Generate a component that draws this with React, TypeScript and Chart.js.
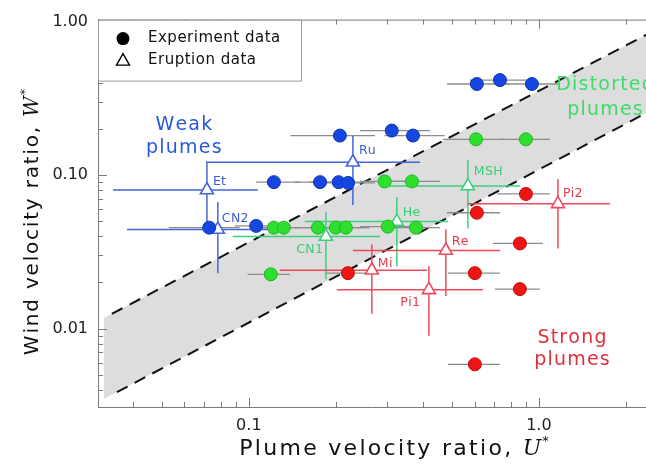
import React, { useEffect, useRef } from "react";
import { Chart, registerables } from "chart.js";

Chart.register(...registerables);

// ---------- axes ----------
const X_MIN = 0.0302;
const X_MAX = 2.34;
const Y_MIN = 0.00309;
const Y_MAX = 1.03;
const X_TICKS = [0.1, 1];
const X_TICK_LABELS = ["0.1", "1.0"];
const Y_TICKS = [0.01, 0.1, 1];
const Y_TICK_LABELS = ["0.01", "0.10", "1.00"];

// ---------- experiment data (filled circles, grey U error bars) ----------
const expBlueU = [0.611, 0.734, 0.946, 0.206, 0.311, 0.368, 0.122, 0.176, 0.204, 0.22, 0.073, 0.106];
const expBlueW = [0.392, 0.416, 0.392, 0.181, 0.195, 0.181, 0.09, 0.09, 0.09, 0.089, 0.0455, 0.0467];
const expBlueLo = [0.482, 0.578, 0.764, 0.139, 0.242, 0.294, 0.106, 0.144, 0.162, 0.176, 0.053, 0.0895];
const expBlueHi = [0.794, 0.946, 1.18, 0.272, 0.421, 0.474, 0.15, 0.214, 0.251, 0.272, 0.093, 0.139];

const expGreenU = [0.607, 0.902, 0.294, 0.365, 0.122, 0.132, 0.173, 0.1995, 0.216, 0.3015, 0.377, 0.119];
const expGreenW = [0.171, 0.171, 0.091, 0.091, 0.0455, 0.0455, 0.0455, 0.0455, 0.0455, 0.0462, 0.0455, 0.0226];
const expGreenLo = [0.467, 0.734, 0.242, 0.294, 0.101, 0.109, 0.144, 0.162, 0.176, 0.242, 0.306, 0.099];
const expGreenHi = [0.764, 1.091, 0.359, 0.456, 0.15, 0.162, 0.214, 0.251, 0.261, 0.373, 0.456, 0.1385];

const expRedU = [0.2195, 0.902, 0.611, 0.86, 0.6015, 0.86, 0.6015];
const expRedW = [0.023, 0.0754, 0.0569, 0.0359, 0.023, 0.0181, 0.00586];
const expRedLo = [0.183, 0.716, 0.482, 0.694, 0.4855, 0.705, 0.4855];
const expRedHi = [0.261, 1.091, 0.734, 1.032, 0.734, 1.008, 0.734];

// ---------- eruption data (open triangles, U and W error bars) ----------
const eruptNames = ["Et", "Ru", "CN2", "CN1", "He", "MSH", "Mi", "Pi1", "Re", "Pi2"];
const eruptGroup = ["blue", "blue", "blue", "green", "green", "green", "red", "red", "red", "red"];
const eruptU = [0.0717, 0.2284, 0.0782, 0.1844, 0.3238, 0.569, 0.2655, 0.4176, 0.4777, 1.163];
const eruptW = [0.08, 0.1213, 0.0442, 0.0398, 0.0498, 0.0849, 0.024, 0.0179, 0.0323, 0.065];
const eruptULo = [0.034, 0.0711, 0.038, 0.0881, 0.156, 0.299, 0.1279, 0.2011, 0.2284, 0.569];
const eruptUHi = [0.1074, 0.389, 0.1385, 0.283, 0.4855, 0.86, 0.4111, 0.641, 0.734, 1.757];
const eruptWLo = [0.0462, 0.064, 0.023, 0.021, 0.0255, 0.0449, 0.0125, 0.00901, 0.0163, 0.0333];
const eruptWHi = [0.1213, 0.181, 0.0669, 0.0577, 0.0721, 0.125, 0.0353, 0.0255, 0.0442, 0.0942];

// ---------- regime band ----------
const bandU = [0.0316, 2.34];
const bandUpperW = [0.01172, 0.818];
const bandLowerW = [0.00348, 0.2535];
const upperLineU = [0.0337, 2.34];
const upperLineW = [0.0125, 0.818];
const lowerLineU = [0.0351, 2.34];
const lowerLineW = [0.00386, 0.2535];

// ---------- region annotations ----------
const regionText = ["Weak", "plumes", "Distorted", "plumes", "Strong", "plumes"];
const regionU = [0.0597, 0.0597, 1.69, 1.69, 1.3, 1.3];
const regionW = [0.213, 0.149, 0.386, 0.267, 0.00875, 0.00622];
const regionGroup = ["blue", "blue", "green", "green", "red", "red"];

// ---------- styles ----------
const DOT_FILL: Record<string, string> = { blue: "#1646e0", green: "#2ee02e", red: "#ee1515" };
const DOT_EDGE: Record<string, string> = { blue: "#1034b4", green: "#1fb41f", red: "#c40c0c" };
const ERUPT_COLOR: Record<string, string> = { blue: "#4566d8", green: "#3ccf7c", red: "#ee4a5c" };
const REGION_COLOR: Record<string, string> = { blue: "#2a5ad8", green: "#3ddc6a", red: "#e0303a" };
const LABEL_COLOR: Record<string, string> = { blue: "#3a5fd0", green: "#36cf78", red: "#e23a4c" };
// label offsets (px) relative to the triangle and text alignment
const LABEL_OFFSET: Record<string, [number, number, CanvasTextAlign]> = {
  Et: [6, -8, "left"],
  Ru: [6, -11, "left"],
  CN2: [4, -11, "left"],
  CN1: [-3, 13, "right"],
  He: [6, -9, "left"],
  MSH: [6, -14, "left"],
  Mi: [6, -7, "left"],
  Pi1: [-9, 13, "right"],
  Re: [6, -9, "left"],
  Pi2: [5, -10, "left"],
};

const FONT = "'DejaVu Sans', sans-serif";

function pts(us: number[], ws: number[]) {
  return us.map((u, i) => ({ x: u, y: ws[i] }));
}

function spacedWidth(ctx: CanvasRenderingContext2D, t: string, sp: number) {
  let w = 0;
  for (const ch of t) w += ctx.measureText(ch).width + sp;
  return w;
}
function drawSpaced(ctx: CanvasRenderingContext2D, t: string, x: number, y: number, sp: number) {
  for (const ch of t) {
    ctx.fillText(ch, x, y);
    x += ctx.measureText(ch).width + sp;
  }
  return x;
}
function drawSpacedAligned(ctx: CanvasRenderingContext2D, t: string, x: number, y: number, sp: number, align: string) {
  const w = spacedWidth(ctx, t, sp) - sp;
  const start = align === "center" ? x - w / 2 : align === "right" ? x - w : x;
  const prev = ctx.textAlign;
  ctx.textAlign = "left";
  drawSpaced(ctx, t, start, y, sp);
  ctx.textAlign = prev;
}

const overlayPlugin = {
  id: "overlay",
  afterDatasetDraw(chart: any, args: any) {
    const ds = chart.data.datasets[args.index];
    if (ds.label !== "Lower boundary") return;
    const ctx = chart.ctx;
    const xs = chart.scales.x;
    const ys = chart.scales.y;
    const ca = chart.chartArea;
    ctx.save();
    ctx.beginPath();
    ctx.rect(ca.left, ca.top, ca.right - ca.left, ca.bottom - ca.top);
    ctx.clip();
    ctx.strokeStyle = "#8c8c8c";
    ctx.lineWidth = 1.3;
    const groups: [number[], number[], number[], number[]][] = [
      [expBlueU, expBlueW, expBlueLo, expBlueHi],
      [expGreenU, expGreenW, expGreenLo, expGreenHi],
      [expRedU, expRedW, expRedLo, expRedHi],
    ];
    groups.forEach(([u, w, lo, hi]) => {
      u.forEach((_, i) => {
        const y = ys.getPixelForValue(w[i]);
        ctx.beginPath();
        ctx.moveTo(xs.getPixelForValue(lo[i]), y);
        ctx.lineTo(xs.getPixelForValue(hi[i]), y);
        ctx.stroke();
      });
    });
    ctx.lineWidth = 1.5;
    eruptU.forEach((u, i) => {
      ctx.strokeStyle = ERUPT_COLOR[eruptGroup[i]];
      const x = xs.getPixelForValue(u);
      const y = ys.getPixelForValue(eruptW[i]);
      ctx.beginPath();
      ctx.moveTo(xs.getPixelForValue(eruptULo[i]), y);
      ctx.lineTo(xs.getPixelForValue(eruptUHi[i]), y);
      ctx.moveTo(x, ys.getPixelForValue(eruptWLo[i]));
      ctx.lineTo(x, ys.getPixelForValue(eruptWHi[i]));
      ctx.stroke();
    });
    ctx.restore();
  },
  afterDraw(chart: any) {
    const ctx = chart.ctx as CanvasRenderingContext2D;
    const xs = chart.scales.x;
    const ys = chart.scales.y;
    const ca = chart.chartArea;
    ctx.save();
    ctx.strokeStyle = "#7a7a7a";
    ctx.lineWidth = 1;
    ctx.beginPath();
    ctx.moveTo(ca.left, ca.top + 0.5);
    ctx.lineTo(ca.right, ca.top + 0.5);
    ctx.stroke();
    const decades = [0.001, 0.01, 0.1, 1];
    ctx.beginPath();
    decades.forEach((d) => {
      for (let k = 1; k <= 9; k++) {
        const v = d * k;
        const len = k === 1 ? 9 : 5;
        if (v >= Y_MIN && v <= Y_MAX) {
          const y = Math.round(ys.getPixelForValue(v)) + 0.5;
          ctx.moveTo(ca.left, y);
          ctx.lineTo(ca.left + len, y);
        }
        if (v >= X_MIN && v <= X_MAX) {
          const x = Math.round(xs.getPixelForValue(v)) + 0.5;
          ctx.moveTo(x, ca.bottom);
          ctx.lineTo(x, ca.bottom - len);
          ctx.moveTo(x, ca.top);
          ctx.lineTo(x, ca.top + len);
        }
      }
    });
    ctx.stroke();

    // eruption labels
    ctx.font = `12.5px ${FONT}`;
    ctx.textBaseline = "middle";
    eruptNames.forEach((n, i) => {
      const [dx, dy, al] = LABEL_OFFSET[n];
      ctx.fillStyle = LABEL_COLOR[eruptGroup[i]];
      drawSpacedAligned(ctx, n, xs.getPixelForValue(eruptU[i]) + dx, ys.getPixelForValue(eruptW[i]) + dy, 0.3, al);
    });

    // region annotations
    ctx.font = `19px ${FONT}`;
    regionText.forEach((t, i) => {
      ctx.fillStyle = REGION_COLOR[regionGroup[i]];
      drawSpacedAligned(ctx, t, xs.getPixelForValue(regionU[i]), ys.getPixelForValue(regionW[i]), 1.2, "center");
    });

    // legend box
    ctx.fillStyle = "#ffffff";
    ctx.fillRect(ca.left + 1, ca.top + 1, 202, 60);
    ctx.strokeStyle = "#9a9a9a";
    ctx.lineWidth = 1;
    ctx.strokeRect(ca.left + 0.5, ca.top + 0.5, 203, 61);
    ctx.fillStyle = "#000";
    ctx.beginPath();
    ctx.arc(ca.left + 25, ca.top + 19, 6.5, 0, Math.PI * 2);
    ctx.fill();
    ctx.strokeStyle = "#000";
    ctx.lineWidth = 1.4;
    const tx = ca.left + 25;
    const ty = ca.top + 41;
    ctx.beginPath();
    ctx.moveTo(tx, ty - 7);
    ctx.lineTo(tx + 6.5, ty + 4.5);
    ctx.lineTo(tx - 6.5, ty + 4.5);
    ctx.closePath();
    ctx.stroke();
    ctx.font = `15px ${FONT}`;
    ctx.fillStyle = "#111";
    drawSpacedAligned(ctx, "Experiment data", ca.left + 50, ca.top + 19, 0.5, "left");
    drawSpacedAligned(ctx, "Eruption data", ca.left + 50, ca.top + 41, 0.5, "left");

    // axis titles
    const drawTitle = (parts: [string, string, number, number][]) => {
      let total = 0;
      parts.forEach(([t, f, , sp]) => {
        ctx.font = f;
        total += spacedWidth(ctx, t, sp);
      });
      let x = -total / 2;
      parts.forEach(([t, f, dy, sp]) => {
        ctx.font = f;
        x = drawSpaced(ctx, t, x, dy, sp);
      });
    };
    ctx.fillStyle = "#111";
    ctx.textAlign = "left";
    ctx.textBaseline = "alphabetic";
    ctx.save();
    ctx.translate(394, 455);
    drawTitle([
      ["Plume velocity ratio, ", `22px ${FONT}`, 0, 2.3],
      ["U", `italic 22px 'DejaVu Serif', serif`, 0, 1],
      ["*", `13px ${FONT}`, -10, 0],
    ]);
    ctx.restore();
    ctx.save();
    ctx.translate(38, 222);
    ctx.rotate(-Math.PI / 2);
    drawTitle([
      ["Wind velocity ratio, ", `20px ${FONT}`, 0, 1.8],
      ["W", `italic 20px 'DejaVu Serif', serif`, 0, 1],
      ["*", `13px ${FONT}`, -9, 0],
    ]);
    ctx.restore();
    ctx.restore();
  },
};

export default function App() {
  const ref = useRef<HTMLCanvasElement | null>(null);
  useEffect(() => {
    if (!ref.current) return;
    const expDs = (u: number[], w: number[], g: string, label: string) => ({
      type: "scatter" as const,
      label,
      data: pts(u, w),
      pointRadius: 6.5,
      pointStyle: "circle",
      backgroundColor: DOT_FILL[g],
      borderColor: DOT_EDGE[g],
      borderWidth: 1,
      order: 1,
    });
    const eruptDs = (g: string) => {
      const idx = eruptU.map((_, i) => i).filter((i) => eruptGroup[i] === g);
      return {
        type: "scatter" as const,
        label: "Eruption " + g,
        data: idx.map((i) => ({ x: eruptU[i], y: eruptW[i] })),
        pointRadius: 7.5,
        pointStyle: "triangle",
        backgroundColor: "#ffffff",
        borderColor: ERUPT_COLOR[g],
        borderWidth: 1.6,
        order: 3,
      };
    };
    const chart = new Chart(ref.current, {
      type: "scatter",
      data: {
        datasets: [
          expDs(expBlueU, expBlueW, "blue", "Experiment blue"),
          expDs(expGreenU, expGreenW, "green", "Experiment green"),
          expDs(expRedU, expRedW, "red", "Experiment red"),
          eruptDs("blue"),
          eruptDs("green"),
          eruptDs("red"),
          {
            type: "line",
            label: "Lower boundary",
            data: pts(lowerLineU, lowerLineW),
            borderColor: "#111",
            borderWidth: 2,
            borderDash: [12, 8],
            pointRadius: 0,
            fill: false,
            order: 8,
          },
          {
            type: "line",
            label: "Upper boundary",
            data: pts(upperLineU, upperLineW),
            borderColor: "#111",
            borderWidth: 2,
            borderDash: [12, 8],
            pointRadius: 0,
            fill: false,
            order: 9,
          },
          {
            type: "line",
            label: "Band upper",
            data: pts(bandU, bandUpperW),
            borderWidth: 0,
            borderColor: "rgba(0,0,0,0)",
            backgroundColor: "#dddddd",
            pointRadius: 0,
            fill: "+1",
            order: 20,
          },
          {
            type: "line",
            label: "Band lower",
            data: pts(bandU, bandLowerW),
            borderWidth: 0,
            borderColor: "rgba(0,0,0,0)",
            pointRadius: 0,
            fill: false,
            order: 21,
          },
        ] as any,
      },
      options: {
        animation: false,
        responsive: false,
        events: [],
        layout: { autoPadding: false, padding: { left: 0, right: 0, top: 16, bottom: 0 } },
        plugins: { legend: { display: false }, tooltip: { enabled: false } },
        scales: {
          x: {
            type: "logarithmic",
            min: X_MIN,
            max: X_MAX,
            afterBuildTicks: (s: any) => {
              s.ticks = X_TICKS.map((v) => ({ value: v }));
            },
            afterFit: (s: any) => {
              s.height = 58;
            },
            grid: { display: false, drawTicks: false },
            border: { display: true, color: "#7a7a7a", width: 1 },
            ticks: {
              padding: 9,
              color: "#222",
              font: { family: "DejaVu Sans", size: 16 },
              maxRotation: 0,
              autoSkip: false,
              callback: (v: any) => X_TICK_LABELS[X_TICKS.indexOf(Number(v))] ?? "",
            },
          },
          y: {
            type: "logarithmic",
            min: Y_MIN,
            max: Y_MAX,
            afterBuildTicks: (s: any) => {
              s.ticks = Y_TICKS.map((v) => ({ value: v }));
            },
            afterFit: (s: any) => {
              s.width = 98;
            },
            grid: { display: false, drawTicks: false },
            border: { display: true, color: "#7a7a7a", width: 1 },
            ticks: {
              padding: 10,
              color: "#222",
              font: { family: "DejaVu Sans", size: 16 },
              autoSkip: false,
              callback: (v: any) => Y_TICK_LABELS[Y_TICKS.indexOf(Number(v))] ?? "",
            },
          },
        },
      } as any,
      plugins: [overlayPlugin],
    });
    return () => chart.destroy();
  }, []);
  return (
    <div style={{ position: "absolute", left: 0, top: 0, width: 646, height: 465, background: "#fff" }}>
      <canvas ref={ref} width={646} height={465} style={{ display: "block" }} />
    </div>
  );
}
